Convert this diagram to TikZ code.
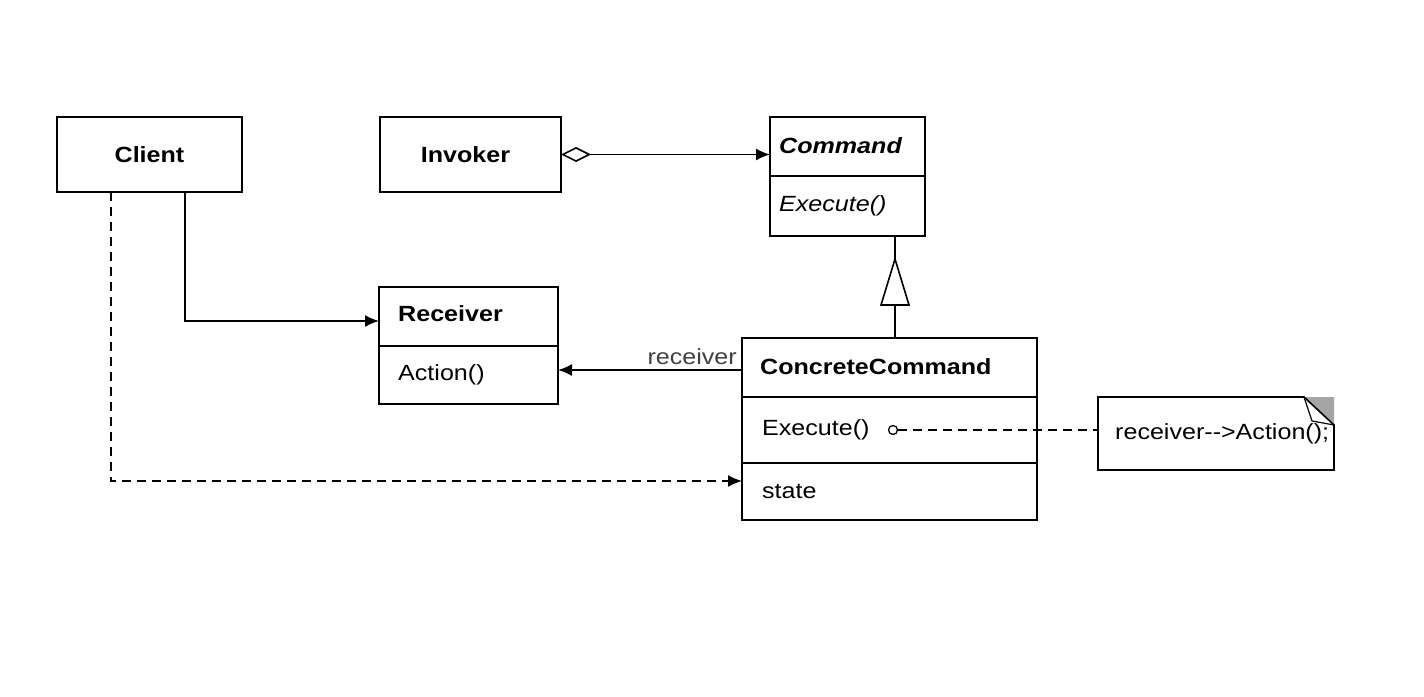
\documentclass[tikz,border=0pt]{standalone}
\usepackage{fontspec}
\setmainfont{Liberation Sans}[FakeStretch=1.14]
\usetikzlibrary{arrows.meta,calc}
\begin{document}
\begin{tikzpicture}[x=1pt,y=-1pt,
  box/.style={draw,line width=1.6pt,anchor=north west,inner sep=0pt,outer sep=0pt},
  lbl/.style={font=\fontsize{22}{26}\selectfont,inner sep=0pt,anchor=west},
  conn/.style={line width=1.6pt},
  dsh/.style={line width=1.6pt,dash pattern=on 9pt off 6pt},
  tip/.style={-{Latex[length=14pt,width=12pt]}}
]
\useasboundingbox[fill=white] (0,0) rectangle (1424,696);

% Client
\node[box,minimum width=185pt,minimum height=75pt] (client) at (57,117) {};
\node[lbl,anchor=center] (clientt) at (client.center) {\bfseries Client};
% Invoker
\node[box,minimum width=181pt,minimum height=75pt] (invoker) at (380,117) {};
\node[lbl,anchor=center] (invokert) at ([xshift=-5pt]invoker.center) {\bfseries Invoker};
% Command
\node[box,minimum width=155pt,minimum height=59pt] (cmdt) at (770,117) {};
\node[box,minimum width=155pt,minimum height=60pt] (cmdm) at (770,176) {};
\node[lbl] (cmdtl) at ([xshift=9pt,yshift=1pt]cmdt.west) {\bfseries\itshape Command};
\node[lbl] (cmdml) at ([xshift=9pt]cmdm.west) {\itshape Execute()};
% Receiver
\node[box,minimum width=179pt,minimum height=59pt] (rt) at (379,287) {};
\node[box,minimum width=179pt,minimum height=58pt] (rm) at (379,346) {};
\node[lbl] (rtl) at ([xshift=19pt,yshift=2.5pt]rt.west) {\bfseries Receiver};
\node[lbl] (rml) at ([xshift=19pt]rm.west) {Action()};
% ConcreteCommand
\node[box,minimum width=295pt,minimum height=59pt] (cct) at (742,338) {};
\node[box,minimum width=295pt,minimum height=66pt] (ccm) at (742,397) {};
\node[box,minimum width=295pt,minimum height=57pt] (ccs) at (742,463) {};
\node[lbl] (cctl) at ([xshift=18pt,yshift=1pt]cct.west) {\bfseries ConcreteCommand};
\node[lbl] (ccml) at ([xshift=20pt]ccm.west) {Execute()};
\node[lbl] (ccsl) at ([xshift=20pt]ccs.west) {state};
% Note
\node[box,minimum width=236pt,minimum height=73pt,draw=none] (note) at (1098,397) {};
\draw[line width=1.6pt] (note.north west) -- ([xshift=-30pt]note.north east) -- ([yshift=-28pt]note.north east) -- (note.south east) -- (note.south west) -- cycle;
\fill[black!35] ([xshift=-30pt]note.north east) -- (note.north east) -- ([yshift=-28pt]note.north east) -- cycle;
\draw[line width=1.2pt,fill=white] ([xshift=-30pt]note.north east) -- ([xshift=-22pt,yshift=-24pt]note.north east) -- ([yshift=-28pt]note.north east);
\draw[line width=1.6pt] ([xshift=-30pt]note.north east) -- ([yshift=-28pt]note.north east);
\node[lbl] (notel) at ([xshift=17pt]note.west) {receiver-{}->Action();};

% Invoker -> Command (aggregation)
\draw[conn,{Diamond[open,length=30pt,width=15pt]}-{Latex[length=14pt,width=12pt]}] (invoker.east) -- (invoker.east -| cmdt.west);
% Client -> Receiver
\draw[conn,tip] ([xshift=35.5pt]client.south) |- ([yshift=-4.5pt]rt.west);
% ConcreteCommand -> Receiver
\draw[conn,tip] ([yshift=-2.5pt]cct.west) -- ([yshift=-2.5pt]cct.west -| rm.east);
\node[font=\fontsize{22}{26}\selectfont,text=black!75,inner sep=0pt,anchor=south east] (recv) at ([xshift=-5pt,yshift=3pt]cct.west) {receiver};
% Client -> ConcreteCommand (dashed)
\draw[dsh,tip] ([xshift=-38.5pt]client.south) |- ([yshift=10.5pt]ccs.west);
% Inheritance
\coordinate (ib) at ($(cmdm.south)+(47.5,69)$);
\draw[conn] (ib |- cct.north) -- (ib);
\draw[conn] ([yshift=46pt]ib) -- (ib |- cmdm.south);
\draw[conn,fill=white] ([xshift=-14pt]ib) -- ([yshift=46pt]ib) -- ([xshift=14pt]ib) -- cycle;
% Execute -> note
\node[draw,circle,line width=1.3pt,minimum size=9pt,inner sep=0pt] (dot) at ([xshift=151pt]ccm.west) {};
\draw[dsh] (dot.east) -- (dot.east -| note.west);
\end{tikzpicture}
\end{document}
